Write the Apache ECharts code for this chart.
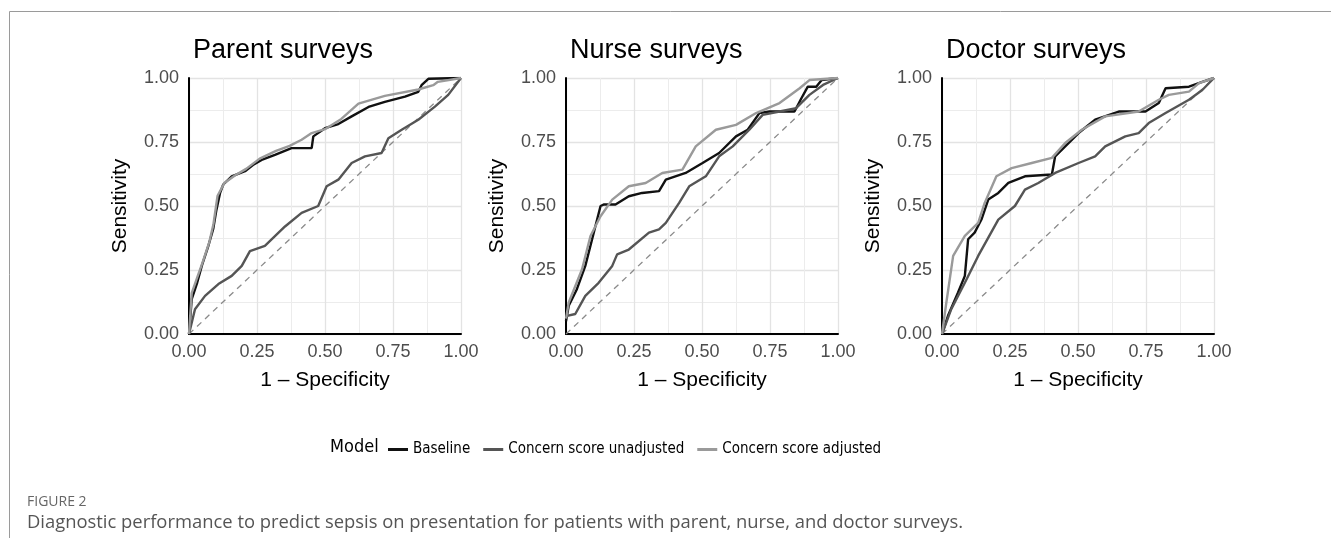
<!DOCTYPE html>
<html>
<head>
<meta charset="utf-8">
<script src="https://cdn.jsdelivr.net/npm/echarts@6/dist/echarts.min.js"></script>
<style>
html,body{margin:0;padding:0;background:#fff}
#chart{width:1331px;height:538px}
</style>
</head>
<body>
<div id="chart"></div>
<script>
// panels
var panelTitles=['Parent surveys','Nurse surveys','Doctor surveys']
var modelNames=['Baseline','Concern score unadjusted','Concern score adjusted']
var tickValues=[0,0.25,0.5,0.75,1]
var tickLabels=['0.00','0.25','0.50','0.75','1.00']
var diagonal=[[0,0],[1,1]]

// Parent surveys (1 - specificity, sensitivity)
var parentBaseline=[[0,0],[0.01,0.136],[0.03,0.2],[0.047,0.266],[0.07,0.34],[0.089,0.41],[0.1,0.48],[0.114,0.55],[0.126,0.584],[0.157,0.616],[0.206,0.636],[0.235,0.66],[0.267,0.68],[0.316,0.70],[0.377,0.726],[0.451,0.726],[0.457,0.772],[0.5,0.804],[0.549,0.82],[0.598,0.85],[0.66,0.887],[0.72,0.907],[0.794,0.927],[0.843,0.946],[0.855,0.972],[0.88,0.997],[1,1]]
var parentUnadj=[[0,0],[0.022,0.097],[0.059,0.149],[0.108,0.195],[0.157,0.227],[0.194,0.266],[0.224,0.324],[0.279,0.344],[0.353,0.42],[0.414,0.473],[0.475,0.5],[0.506,0.577],[0.549,0.603],[0.598,0.668],[0.647,0.694],[0.708,0.707],[0.733,0.765],[0.782,0.798],[0.843,0.837],[0.904,0.888],[0.953,0.934],[1,1]]
var parentAdj=[[0,0],[0.01,0.16],[0.03,0.22],[0.05,0.28],[0.075,0.36],[0.09,0.43],[0.105,0.54],[0.13,0.59],[0.17,0.62],[0.21,0.645],[0.26,0.685],[0.32,0.715],[0.37,0.735],[0.414,0.759],[0.451,0.785],[0.5,0.8],[0.56,0.84],[0.623,0.9],[0.72,0.93],[0.843,0.955],[0.898,0.972],[0.915,0.985],[1,1]]

// Nurse surveys
var nurseBaseline=[[0,0.05],[0.01,0.11],[0.04,0.175],[0.071,0.266],[0.096,0.37],[0.127,0.5],[0.14,0.506],[0.182,0.506],[0.231,0.538],[0.28,0.551],[0.342,0.558],[0.367,0.603],[0.44,0.629],[0.502,0.668],[0.563,0.707],[0.625,0.772],[0.668,0.798],[0.711,0.863],[0.748,0.869],[0.84,0.869],[0.865,0.92],[0.889,0.966],[0.92,0.966],[0.94,0.992],[1,1]]
var nurseUnadj=[[0,0.07],[0.034,0.078],[0.071,0.149],[0.12,0.2],[0.17,0.266],[0.188,0.311],[0.231,0.33],[0.305,0.396],[0.342,0.409],[0.367,0.434],[0.416,0.512],[0.453,0.577],[0.514,0.616],[0.563,0.694],[0.613,0.733],[0.674,0.798],[0.723,0.856],[0.785,0.869],[0.846,0.882],[0.895,0.934],[0.945,0.973],[1,1]]
var nurseAdj=[[0,0.06],[0.01,0.123],[0.059,0.253],[0.09,0.383],[0.127,0.46],[0.17,0.525],[0.231,0.577],[0.293,0.59],[0.354,0.629],[0.428,0.642],[0.477,0.733],[0.551,0.798],[0.625,0.817],[0.699,0.863],[0.785,0.902],[0.859,0.96],[0.895,0.992],[1,1]]

// Doctor surveys
var doctorBaseline=[[0,0],[0.022,0.071],[0.059,0.162],[0.084,0.227],[0.096,0.37],[0.12,0.396],[0.145,0.447],[0.17,0.525],[0.207,0.551],[0.244,0.59],[0.305,0.616],[0.404,0.623],[0.416,0.694],[0.453,0.733],[0.502,0.785],[0.563,0.837],[0.65,0.869],[0.748,0.869],[0.797,0.902],[0.822,0.96],[0.908,0.966],[0.957,0.985],[1,1]]
var doctorUnadj=[[0,0],[0.034,0.097],[0.084,0.2],[0.133,0.305],[0.207,0.447],[0.268,0.5],[0.305,0.564],[0.354,0.59],[0.416,0.629],[0.502,0.668],[0.563,0.694],[0.6,0.733],[0.674,0.772],[0.723,0.785],[0.76,0.824],[0.822,0.863],[0.908,0.915],[0.957,0.953],[1,1]]
var doctorAdj=[[0,0],[0.016,0.123],[0.041,0.305],[0.084,0.383],[0.133,0.434],[0.157,0.512],[0.2,0.616],[0.256,0.648],[0.33,0.668],[0.404,0.688],[0.453,0.746],[0.514,0.798],[0.6,0.85],[0.723,0.869],[0.797,0.915],[0.834,0.934],[0.908,0.947],[0.945,0.98],[1,1]]

var panelData=[
	[parentBaseline,parentUnadj,parentAdj],
	[nurseBaseline,nurseUnadj,nurseAdj],
	[doctorBaseline,doctorUnadj,doctorAdj]
]

var gridLeft=[189,566,942]
var lineColors=['#111111','#555555','#9a9a9a']
var baseFont='"Liberation Sans", Arial, sans-serif'
var narrowFont='"Liberation Sans Narrow", "DejaVu Sans Condensed", Arial, sans-serif'
var captionFont='"Open Sans", Lato, sans-serif'

function fmtTick(v){
	var i=tickValues.indexOf(v)
	return i>=0?tickLabels[i]:''
}

function buildAxis(i,isX){
	return {
		type:'value',
		gridIndex:i,
		min:0,max:1,interval:0.25,
		name:isX?'1 \u2013 Specificity':'Sensitivity',
		nameLocation:'middle',
		nameGap:isX?36:58,
		nameTextStyle:{color:'#000',fontSize:21,fontFamily:baseFont},
		axisLine:{show:true,lineStyle:{color:'#000',width:2}},
		axisTick:{show:false},
		axisLabel:{color:'#4d4d4d',fontSize:18,fontFamily:baseFont,margin:isX?9:10,formatter:fmtTick},
		splitLine:{show:true,lineStyle:{color:'#e3e3e3',width:1.3}},
		minorTick:{show:false,splitNumber:2},
		minorSplitLine:{show:true,lineStyle:{color:'#ececec',width:1}}
	}
}

var grids=[],xAxes=[],yAxes=[],titles=[],series=[]
for(var i=0;i<3;i++){
	grids.push({left:gridLeft[i],top:78,width:272,height:256})
	xAxes.push(buildAxis(i,true))
	yAxes.push(buildAxis(i,false))
	titles.push({text:panelTitles[i],left:gridLeft[i]-1,top:32,
		textStyle:{color:'#000',fontSize:27,fontWeight:'normal',fontFamily:baseFont}})
	series.push({
		type:'line',name:'diag',xAxisIndex:i,yAxisIndex:i,data:diagonal,
		showSymbol:false,silent:true,
		lineStyle:{color:'#8a8a8a',width:1.3,type:[6,5]}
	})
	for(var k=0;k<3;k++){
		series.push({
			type:'line',name:modelNames[k],xAxisIndex:i,yAxisIndex:i,
			data:panelData[i][k],showSymbol:false,
			lineStyle:{color:lineColors[k],width:2.4},
			itemStyle:{color:lineColors[k]}
		})
	}
}

var myChart=echarts.init(document.getElementById('chart'))
var option={
	animation:false,
	title:titles,
	grid:grids,
	xAxis:xAxes,
	yAxis:yAxes,
	legend:{
		data:modelNames,
		left:383,top:437,
		itemWidth:20,itemHeight:3,itemGap:13,
		icon:'rect',
		textStyle:{color:'#000',fontSize:15,fontFamily:narrowFont}
	},
	graphic:[
		{type:'line',shape:{x1:9.5,y1:11.5,x2:1331,y2:11.5},style:{stroke:'#9a9a9a',lineWidth:1}},
		{type:'line',shape:{x1:9.5,y1:11.5,x2:9.5,y2:538},style:{stroke:'#9a9a9a',lineWidth:1}},
		{type:'text',left:330,top:438,style:{text:'Model',fill:'#000',fontSize:18,fontFamily:narrowFont}},
		{type:'text',left:27,top:495,style:{text:'FIGURE 2',fill:'#666',fontSize:14,fontFamily:captionFont}},
		{type:'text',left:27,top:514,style:{text:'Diagnostic performance to predict sepsis on presentation for patients with parent, nurse, and doctor surveys.',fill:'#555',fontSize:18.4,fontFamily:captionFont}}
	],
	series:series
}
myChart.setOption(option)
</script>
</body>
</html>
